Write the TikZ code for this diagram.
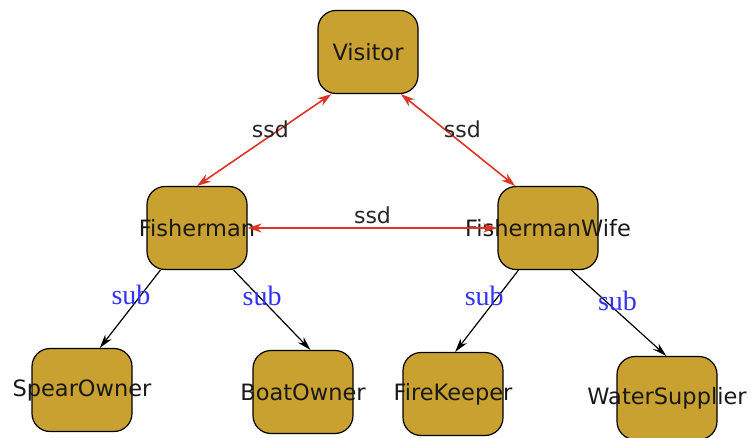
\documentclass[tikz,border=0pt]{standalone}
\usepackage{fontspec}
\setmainfont{DejaVu Sans}
\newfontfamily\relfont{Liberation Serif}
\usetikzlibrary{positioning,arrows.meta}
\definecolor{roleGold}{RGB}{201,161,48}
\definecolor{ssdRed}{RGB}{222,52,38}
\definecolor{subBlue}{RGB}{50,50,250}

\begin{document}
\begin{tikzpicture}[x=1pt,y=-1pt,
                    main node/.style={rectangle,rounded corners=18pt,draw,line width=1.2pt,
                                      fill=roleGold,minimum width=100pt,minimum height=83pt,
                                      inner sep=0pt,label={[font=\fontsize{22.5}{26}\selectfont,text=black!90]center:#1}},
                    ssd/.style={draw=ssdRed,line width=1.6pt,{Stealth[length=14pt,width=9pt]}-{Stealth[length=14pt,width=9pt]}},
                    sub/.style={draw,line width=1.2pt,-{Stealth[length=14pt,width=8pt]}},
                    ssd label/.style={font=\fontsize{22}{26}\selectfont,text=black!85},
                    sub label/.style={font=\relfont\fontsize{28}{30}\selectfont,text=subBlue}
                   ]
    \useasboundingbox (0,0) rectangle (751,438);
    \node[main node=Visitor] (1) at (368,52) {};
    \node[main node=Fisherman] (2) at (197,228) {};
    \node[main node=FishermanWife] (3) at (548,228) {};
    \node[main node=SpearOwner] (4) at (82,390) {};
    \node[main node=BoatOwner] (5) at (303,392) {};
    \node[main node=FireKeeper] (6) at (453,394) {};
    \node[main node=WaterSupplier] (7) at (667,398) {};
    \path%
      (1.229) edge[ssd] node[ssd label,pos=0.38,xshift=-10pt] {ssd} (2.north)
      (1.308) edge[ssd] node[ssd label,pos=0.38,xshift=18pt] {ssd} (3.128)
      (3.west) edge[ssd] node[ssd label,pos=0.5,yshift=13pt] {ssd} (2.east)
      (2.229) edge[sub] node[sub label,pos=0.32,xshift=-10pt] {sub} (4.67)
      (2.311) edge[sub] node[sub label,pos=0.32,xshift=4pt] {sub} (5.80)
      (3.235) edge[sub] node[sub label,pos=0.32,xshift=-14pt] {sub} (6.87)
      (3.299) edge[sub] node[sub label,pos=0.36,xshift=12pt] {sub} (7.91);
\end{tikzpicture}
\end{document}
